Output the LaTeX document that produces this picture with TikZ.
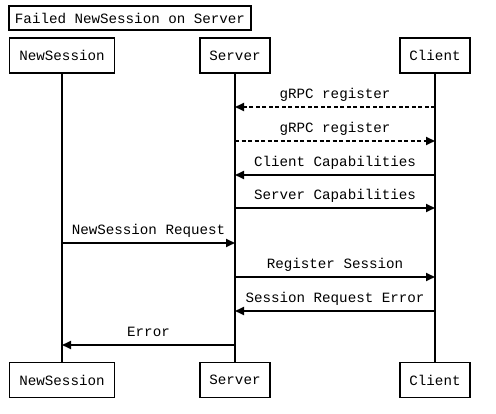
\documentclass[tikz,border=0pt]{standalone}
\usepackage{fontspec}
\setmonofont{Liberation Mono}
\usetikzlibrary{arrows.meta}
\begin{document}
\begin{tikzpicture}[x=1pt,y=-1pt,
  font=\ttfamily\fontsize{14.2}{16}\selectfont,
  box/.style={draw,line width=1.4pt,minimum height=35pt,inner sep=0pt},
  life/.style={line width=1.4pt},
  msg/.style={line width=1.8pt,-{Triangle[length=9pt,width=8pt]}},
  dmsg/.style={msg,dash pattern=on 4pt off 2.5pt},
  lbl/.style={anchor=base,inner sep=0pt}]
\useasboundingbox (0,0) rectangle (496,414);
\node[draw,line width=1.4pt,minimum width=242pt,minimum height=24pt,inner sep=0pt] (title) at (130,18) {Failed NewSession on Server};
\node[box,minimum width=105pt] (nt) at (62,55.5) {NewSession};
\node[box,minimum width=70pt] (st) at (235,55.5) {Server};
\node[box,minimum width=70pt] (ct) at (435,55.5) {Client};
\node[box,minimum width=105pt] (nb) at (62,380) {NewSession};
\node[box,minimum width=70pt] (sb) at (235,380) {Server};
\node[box,minimum width=70pt] (cb) at (435,380) {Client};
\draw[life] (nt) -- (nb);
\draw[life] (st) -- (sb);
\draw[life] (ct) -- (cb);
% messages
\coordinate (c1) at (435,107); \coordinate (s1) at (235,107);
\draw[dmsg] (c1) -- (s1);
\node[lbl] (l1) at (335,99) {gRPC register};
\coordinate (s2) at (235,141); \coordinate (c2) at (435,141);
\draw[dmsg] (s2) -- (c2);
\node[lbl] (l2) at (335,133) {gRPC register};
\coordinate (c3) at (435,175); \coordinate (s3) at (235,175);
\draw[msg] (c3) -- (s3);
\node[lbl] (l3) at (335,167) {Client Capabilities};
\coordinate (s4) at (235,208); \coordinate (c4) at (435,208);
\draw[msg] (s4) -- (c4);
\node[lbl] (l4) at (335,200) {Server Capabilities};
\coordinate (n5) at (62,243); \coordinate (s5) at (235,243);
\draw[msg] (n5) -- (s5);
\node[lbl] (l5) at (148.5,235) {NewSession Request};
\coordinate (s6) at (235,277); \coordinate (c6) at (435,277);
\draw[msg] (s6) -- (c6);
\node[lbl] (l6) at (335,269) {Register Session};
\coordinate (c7) at (435,311); \coordinate (s7) at (235,311);
\draw[msg] (c7) -- (s7);
\node[lbl] (l7) at (335,303) {Session Request Error};
\coordinate (s8) at (235,345); \coordinate (n8) at (62,345);
\draw[msg] (s8) -- (n8);
\node[lbl] (l8) at (148.5,337) {Error};
\end{tikzpicture}
\end{document}
